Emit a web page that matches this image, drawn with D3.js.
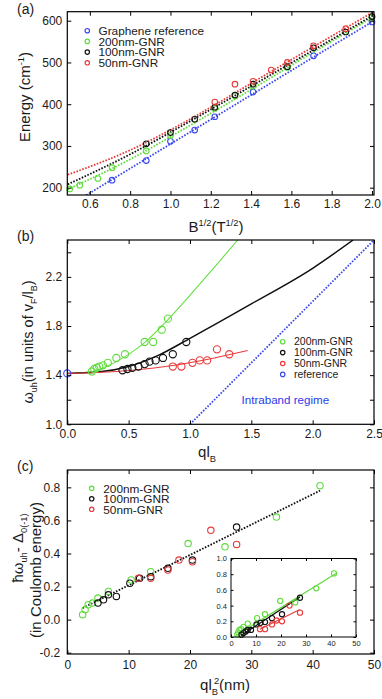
<!DOCTYPE html>
<html>
<head>
<meta charset="utf-8">
<script src="https://cdn.jsdelivr.net/npm/d3@7"></script>
<style>
  body { margin: 0; background: #fff; }
  text { font-family: "Liberation Sans", Arial, sans-serif; fill: #1a1a1a; }
</style>
</head>
<body>
<svg id="fig" width="382" height="699"></svg>
<script>
const svg = d3.select('#fig');

const GREEN = '#5edc3c', BLACK = '#111', RED = '#e83a3a', BLUE = '#3a48ee';

// (a) energy vs B^1/2
const aRefX = [0.71, 0.88, 1.0, 1.12, 1.22, 1.41, 1.71, 2.0];
const aRefY = [218, 265, 311, 338, 370, 429, 516, 597];
const a200X = [0.5, 0.55, 0.64, 0.71, 0.88, 1.0, 1.22, 1.32, 1.41, 1.58, 2.0];
const a200Y = [197, 206, 222, 248, 288, 325, 390, 420, 443, 488, 608];
const a100X = [0.88, 1.0, 1.12, 1.22, 1.32, 1.41, 1.58, 1.71, 1.87, 2.0];
const a100Y = [305, 332, 364, 393, 422, 448, 490, 535, 573, 610];
const a50X = [1.22, 1.32, 1.41, 1.5, 1.58, 1.71, 1.87];
const a50Y = [405, 448, 455, 482, 500, 540, 581];
// dotted fits
const aFitX = [0.49, 0.8, 1.1, 1.4, 1.7, 2.01];
const aFitRef = [155, 246, 334, 422, 510, 600];
const aFit200 = [196, 268, 350, 435, 522, 610];
const aFit100 = [208, 280, 360, 443, 527, 614];
const aFit50 = [231, 290, 365, 450, 535, 622];
const aLegend = ['Graphene reference', '200nm-GNR', '100nm-GNR', '50nm-GNR'];

// (b) omega_uh vs q l_B
const bRefX = [0];
const bRefY = [1.414];
const b200X = [0.2, 0.22, 0.24, 0.26, 0.29, 0.33, 0.40, 0.47, 0.63, 0.70, 0.77, 0.82];
const b200Y = [1.43, 1.45, 1.46, 1.47, 1.48, 1.50, 1.54, 1.57, 1.67, 1.67, 1.77, 1.86];
const b100X = [0.45, 0.49, 0.53, 0.58, 0.63, 0.67, 0.72, 0.78, 0.86, 0.97];
const b100Y = [1.44, 1.45, 1.46, 1.47, 1.49, 1.51, 1.52, 1.54, 1.57, 1.67];
const b50X = [0.86, 0.93, 1.02, 1.08, 1.14, 1.22, 1.32];
const b50Y = [1.47, 1.47, 1.50, 1.52, 1.52, 1.61, 1.57];
const bCurve200X = [0, 0.2, 0.4, 0.6, 0.8, 1.0, 1.2, 1.39];
const bCurve200Y = [1.414, 1.43, 1.51, 1.64, 1.83, 2.05, 2.28, 2.5];
const bCurve100X = [0, 0.25, 0.5, 0.75, 1.0, 1.5, 2.0, 2.33];
const bCurve100Y = [1.414, 1.425, 1.47, 1.565, 1.70, 1.98, 2.27, 2.5];
const bCurve50X = [0, 0.4, 0.8, 1.2, 1.47];
const bCurve50Y = [1.414, 1.43, 1.47, 1.54, 1.60];
const bIntraX = [1.0, 2.5];
const bIntraY = [1.0, 2.5];
const bLegend = ['200nm-GNR', '100nm-GNR', '50nm-GNR', 'reference'];

// (c) hbar omega - Delta vs q l_B^2
const c200X = [2.5, 2.9, 3.4, 4.1, 5.0, 6.7, 10.4, 13.6, 19.7, 25.7, 34.1, 41.2];
const c200Y = [0.03, 0.06, 0.09, 0.10, 0.13, 0.17, 0.24, 0.29, 0.46, 0.44, 0.62, 0.81];
const c100X = [5.0, 5.9, 6.7, 8.0, 10.2, 11.8, 13.6, 16.4, 20.4, 27.6];
const c100Y = [0.10, 0.12, 0.15, 0.14, 0.22, 0.25, 0.26, 0.31, 0.36, 0.56];
const c50X = [11.6, 13.6, 16.4, 18.2, 20.4, 23.4, 27.6];
const c50Y = [0.25, 0.25, 0.30, 0.36, 0.35, 0.54, 0.455];
const cFitX = [2.5, 41.2];
const cFitY = [0.07, 0.78];
const cLegend = ['200nm-GNR', '100nm-GNR', '50nm-GNR'];
// inset
const i100X = [4.2, 5.0, 5.9, 6.7, 8.0, 10.2, 11.8, 13.6, 16.4, 20.4, 27.6];
const i100Y = [0.03, 0.05, 0.07, 0.09, 0.09, 0.16, 0.18, 0.19, 0.24, 0.29, 0.50];
const i50X = [11.6, 13.6, 16.4, 18.2, 20.4, 23.4, 27.6];
const i50Y = [0.10, 0.10, 0.16, 0.21, 0.20, 0.40, 0.31];
const iLine200X = [2, 42], iLine200Y = [0.02, 0.81];
const iLine100X = [4, 27.6], iLine100Y = [0.02, 0.51];
const iLine50X = [11.5, 27.6], iLine50Y = [0.10, 0.35];

function panel(xDom, xRange, yDom, yRange) {
  return {
    x: d3.scaleLinear().domain(xDom).range(xRange),
    y: d3.scaleLinear().domain(yDom).range(yRange)
  };
}

function frame(p, o) {
  const [xl, xr] = p.x.range(), [yb, yt] = p.y.range();
  const tl = o.tick || 4, fs = o.fs || 12;
  const axes = [
    [d3.axisBottom(p.x).tickFormat(o.xFmt), `translate(0,${yb})`, o.xTicks, o.xPad],
    [d3.axisTop(p.x).tickFormat(''), `translate(0,${yt})`, o.xTicks, 0],
    [d3.axisLeft(p.y).tickFormat(o.yFmt), `translate(${xl},0)`, o.yTicks, o.yPad],
    [d3.axisRight(p.y).tickFormat(''), `translate(${xr},0)`, o.yTicks, 0]
  ];
  axes.forEach(([ax, tr, ticks, pad]) => {
    const g = svg.append('g').attr('transform', tr)
      .call(ax.tickValues(ticks).tickSize(-tl).tickPadding(pad));
    g.attr('font-family', null).attr('font-size', fs);
    g.select('.domain').remove();
    g.selectAll('line').attr('stroke', '#000').attr('stroke-width', 1);
    g.selectAll('text').attr('fill', '#1a1a1a');
  });
  svg.append('rect')
    .attr('x', xl).attr('y', yt).attr('width', xr - xl).attr('height', yb - yt)
    .attr('fill', 'none').attr('stroke', '#000').attr('stroke-width', o.sw || 1.2);
}

function clipFor(p, id) {
  const [xl, xr] = p.x.range(), [yb, yt] = p.y.range();
  svg.append('clipPath').attr('id', id).append('rect')
    .attr('x', xl).attr('y', yt).attr('width', xr - xl).attr('height', yb - yt);
  return `url(#${id})`;
}

function dots(p, xs, ys, color, r) {
  svg.append('g').selectAll('circle')
    .data(xs.map((v, i) => [v, ys[i]]))
    .join('circle')
    .attr('cx', d => p.x(d[0])).attr('cy', d => p.y(d[1])).attr('r', r)
    .attr('fill', 'none').attr('stroke', color).attr('stroke-width', 1.1);
}

function curve(p, xs, ys, color, clip, dotted, w) {
  const line = d3.line().x(d => p.x(d[0])).y(d => p.y(d[1])).curve(d3.curveMonotoneX);
  svg.append('path')
    .attr('d', line(xs.map((v, i) => [v, ys[i]])))
    .attr('fill', 'none').attr('stroke', color)
    .attr('stroke-width', w || (dotted ? 1.8 : 1.3))
    .attr('stroke-dasharray', dotted ? '1.6,1.5' : null)
    .attr('clip-path', clip);
}

function legend(x, y0, dy, gap, labels, colors, fs) {
  labels.forEach((t, i) => {
    const y = y0 + i * dy;
    svg.append('circle').attr('cx', x).attr('cy', y).attr('r', 2.2)
      .attr('fill', 'none').attr('stroke', colors[i]).attr('stroke-width', 1.2);
    svg.append('text').attr('x', x + gap).attr('y', y + fs * 0.36)
      .attr('font-size', fs).text(t);
  });
}

// rich text helper: parts = [[text, 'n'|'sub'|'sup', dx], ...]
function rich(sel, parts, fs) {
  let shift = 0;
  parts.forEach(([t, k, dx]) => {
    const target = k === 'sub' ? fs * 0.3 : k === 'sup' ? -fs * 0.4 : 0;
    sel.append('tspan')
      .attr('dy', target - shift)
      .attr('dx', dx || null)
      .attr('font-size', k === 'n' ? fs : fs * 0.62)
      .text(t);
    shift = target;
  });
}

const fmt1 = d => d.toFixed(1);

// ---------- panel (a)
const pa = panel([0.488, 2.01], [67.3, 374], [182.5, 621.6], [195, 11.7]);
const clipA = clipFor(pa, 'clipA');
curve(pa, aFitX, aFitRef, BLUE, clipA, true);
curve(pa, aFitX, aFit200, GREEN, clipA, true);
curve(pa, aFitX, aFit100, BLACK, clipA, true);
curve(pa, aFitX, aFit50, RED, clipA, true);
dots(pa, aRefX, aRefY, BLUE, 2.8);
dots(pa, a200X, a200Y, GREEN, 2.8);
dots(pa, a100X, a100Y, BLACK, 2.8);
dots(pa, a50X, a50Y, RED, 2.8);
frame(pa, {
  xTicks: d3.range(0.6, 2.01, 0.2), xFmt: fmt1, xPad: 4,
  yTicks: [200, 300, 400, 500, 600], yFmt: d3.format('d'), yPad: 5
});
legend(87.3, 30.7, 10.7, 11.2, aLegend, [BLUE, GREEN, BLACK, RED], 11.8);

svg.append('text').attr('x', 17).attr('y', 14).attr('font-size', 14).text('(a)');
rich(svg.append('text').attr('transform', 'translate(29.5,97) rotate(-90)').attr('text-anchor', 'middle'),
  [['Energy (cm', 'n'], ['-1', 'sup'], [')', 'n']], 15);
rich(svg.append('text').attr('x', 216).attr('y', 232).attr('text-anchor', 'middle'),
  [['B', 'n'], ['1/2', 'sup'], ['(T', 'n'], ['1/2', 'sup'], [')', 'n']], 15);

// ---------- panel (b)
const pb = panel([0, 2.5], [67.3, 374], [1.0, 2.5], [424.3, 240]);
const clipB = clipFor(pb, 'clipB');
curve(pb, bIntraX, bIntraY, BLUE, clipB, true);
curve(pb, bCurve200X, bCurve200Y, '#66e044', clipB, false, 1.1);
curve(pb, bCurve100X, bCurve100Y, BLACK, clipB, false, 1.5);
curve(pb, bCurve50X, bCurve50Y, RED, clipB, false, 1.1);
dots(pb, b200X, b200Y, GREEN, 3.6);
dots(pb, b100X, b100Y, BLACK, 3.6);
dots(pb, b50X, b50Y, RED, 3.6);
dots(pb, bRefX, bRefY, BLUE, 3.6);
frame(pb, {
  xTicks: d3.range(0, 2.51, 0.5), xFmt: fmt1, xPad: 5,
  yTicks: d3.range(1.0, 2.41, 0.2), yFmt: d => (Math.round(d * 10) % 4 === 2 ? fmt1(d) : ''), yPad: 5
});
legend(282.7, 341.7, 10.9, 11.3, bLegend, [GREEN, BLACK, RED, BLUE], 10.5);
svg.append('text').attr('x', 241.5).attr('y', 404).attr('font-size', 11.6)
  .style('fill', '#2a3aee').text('Intraband regime');

svg.append('text').attr('x', 17).attr('y', 241).attr('font-size', 14).text('(b)');
rich(svg.append('text').attr('transform', 'translate(33,342) rotate(-90)').attr('text-anchor', 'middle'),
  [['ω', 'n'], ['uh', 'sub'], ['(in units of v', 'n'], ['F', 'sub'], ['/l', 'n'], ['B', 'sub'], [')', 'n']], 14.5);
rich(svg.append('text').attr('x', 207).attr('y', 457).attr('text-anchor', 'middle'),
  [['ql', 'n'], ['B', 'sub']], 15);

// ---------- panel (c)
const pc = panel([0, 50], [67.3, 374], [-0.208, 0.905], [654, 470]);
curve(pc, cFitX, cFitY, BLACK, null, true);
dots(pc, c200X, c200Y, GREEN, 3.2);
dots(pc, c100X, c100Y, BLACK, 3.2);
dots(pc, c50X, c50Y, RED, 3.2);
frame(pc, {
  xTicks: d3.range(0, 51, 10), xFmt: d3.format('d'), xPad: 6,
  yTicks: d3.range(-0.2, 0.81, 0.2), yFmt: d => fmt1(Math.abs(d) < 1e-9 ? 0 : d), yPad: 7
});
legend(91.7, 488.3, 10.5, 11.6, cLegend, [GREEN, BLACK, RED], 11.8);

// inset
const pi = panel([0, 50], [231, 356], [0, 1.0], [637, 558.5]);
svg.append('rect').attr('x', 231).attr('y', 558.5).attr('width', 125).attr('height', 78.5).attr('fill', '#fff');
curve(pi, iLine200X, iLine200Y, GREEN, null, false, 1.1);
curve(pi, iLine100X, iLine100Y, BLACK, null, false, 1.3);
curve(pi, iLine50X, iLine50Y, RED, null, false, 1.1);
dots(pi, c200X, c200Y, GREEN, 2.6);
dots(pi, i100X, i100Y, BLACK, 2.6);
dots(pi, i50X, i50Y, RED, 2.6);
frame(pi, {
  tick: 2.5, fs: 7.5, sw: 1,
  xTicks: d3.range(0, 51, 10), xFmt: d3.format('d'), xPad: 4,
  yTicks: d3.range(0, 1.01, 0.2), yFmt: fmt1, yPad: 4
});

svg.append('text').attr('x', 17).attr('y', 471).attr('font-size', 14).text('(c)');
rich(svg.append('text').attr('transform', 'translate(22.5,548) rotate(-90)').attr('text-anchor', 'middle'),
  [['ħω', 'n'], ['uh', 'sub'], ['- Δ', 'n'], ['0(-1)', 'sub']], 15);
svg.append('text').attr('transform', 'translate(41,570) rotate(-90)').attr('text-anchor', 'middle')
  .attr('font-size', 15).text('(in Coulomb energy)');
rich(svg.append('text').attr('x', 225).attr('y', 690).attr('text-anchor', 'middle'),
  [['ql', 'n'], ['B', 'sub'], ['2', 'sup', -4], ['(nm)', 'n']], 15);
</script>
</body>
</html>
